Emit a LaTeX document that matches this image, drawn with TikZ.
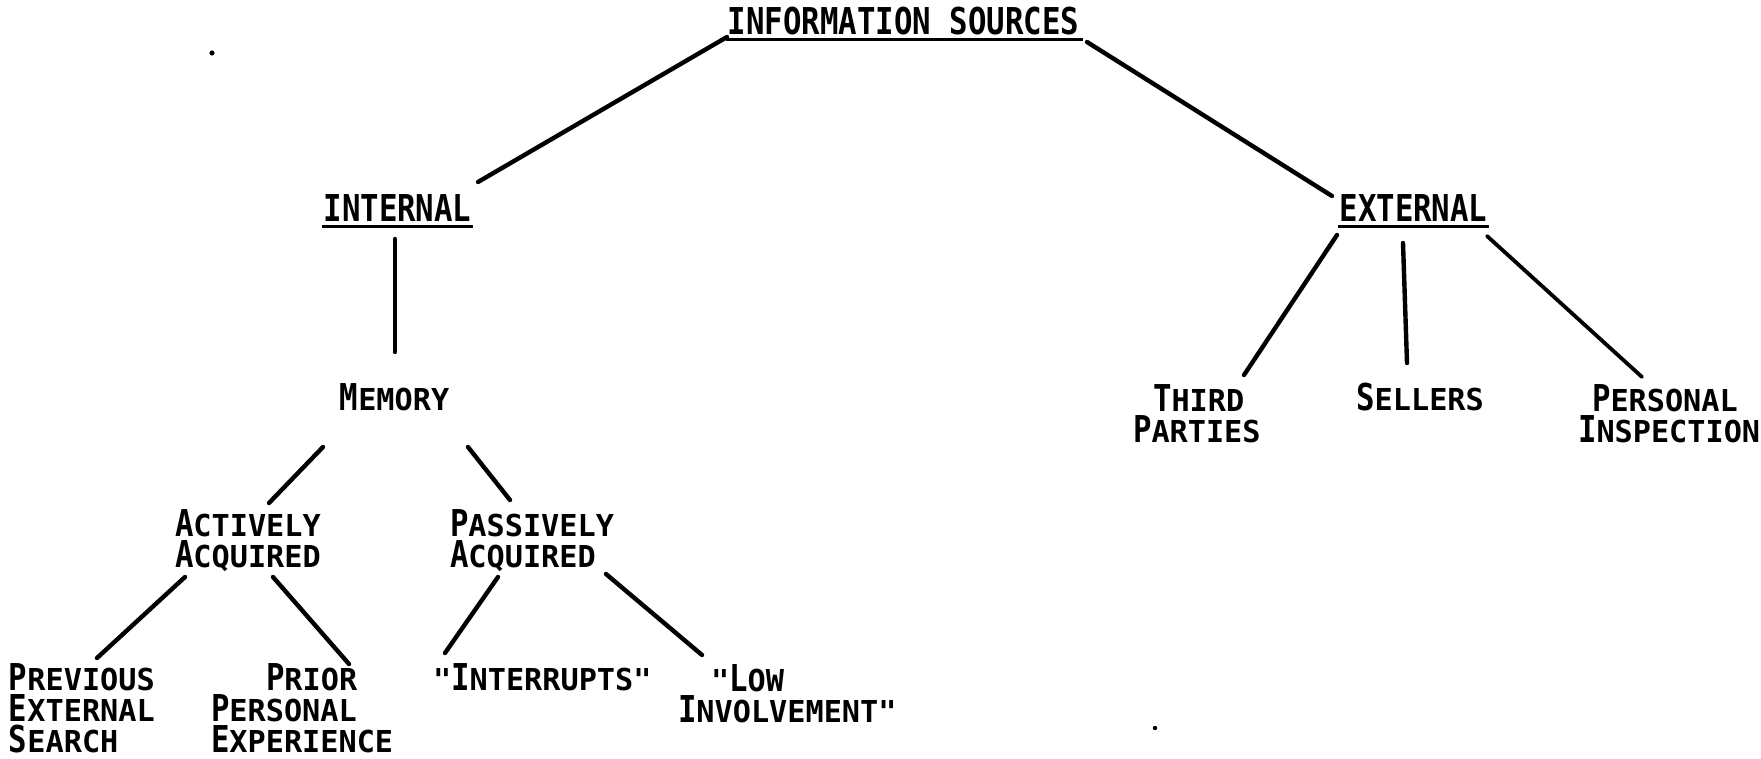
\documentclass[tikz,border=0pt]{standalone}
\usepackage{fontspec}
\usetikzlibrary{calc}
\newfontfamily\bigf{DejaVu Sans Mono}[FakeStretch=0.83]
\newfontfamily\smallf{DejaVu Sans Mono}
\newcommand\Hd[1]{{\bigf\bfseries\fontsize{18.5}{18.5}\selectfont #1}}
\newcommand\Cap[2]{{\bigf\bfseries\fontsize{18.5}{18.5}\selectfont #1}{\smallf\bfseries\fontsize{15.1}{15.5}\selectfont #2}}
\newcommand\lblfont{\smallf\bfseries\fontsize{15.1}{15.5}\selectfont}
\lineskiplimit=-40pt
\tikzset{
  lbl/.style={inner sep=0pt, outer sep=0pt, align=left, font=\lblfont},
  hd/.style={inner sep=0pt, outer sep=0pt, anchor=base},
  conn/.style={line width=2.2pt, line cap=round},
  uline/.style={line width=1.5pt}
}
\begin{document}
\begin{tikzpicture}[x=0.5pt,y=-0.5pt]
\useasboundingbox (0,0) rectangle (1761,759);
% headings
\node[hd] (top) at (903.5,35) {\Hd{INFORMATION SOURCES}};
\node[hd] (int) at (397.5,222) {\Hd{INTERNAL}};
\node[hd] (ext) at (1413.5,222) {\Hd{EXTERNAL}};
\draw[uline] ($(top.base west)+(-2,4.5)$) -- ($(top.base east)+(4,4.5)$);
\draw[uline] ($(int.base west)+(-2,4.5)$) -- ($(int.base east)+(2,4.5)$);
\draw[uline] ($(ext.base west)+(-2,4.5)$) -- ($(ext.base east)+(2,4.5)$);
% labels (base = baseline of the last line)
\node[lbl, anchor=base] (mem) at (394.5,410) {\Cap{M}{EMORY}};
\node[lbl, anchor=base west] (act) at (175,567) {\Cap{A}{CTIVELY}\\\Cap{A}{CQUIRED}};
\node[lbl, anchor=base west] (pas) at (450,567) {\Cap{P}{ASSIVELY}\\\Cap{A}{CQUIRED}};
\node[lbl, anchor=base west] (prev) at (9,752) {\Cap{P}{REVIOUS}\\\Cap{E}{XTERNAL}\\\Cap{S}{EARCH}};
\node[lbl, anchor=base west] (prior) at (211,752) {\hspace*{27.5pt}\Cap{P}{RIOR}\\\Cap{P}{ERSONAL}\\\Cap{E}{XPERIENCE}};
\node[lbl, anchor=base west] (intr) at (433,690) {"\Cap{I}{NTERRUPTS}"};
\node[lbl, anchor=base west] (low) at (678,722) {\hspace*{16.5pt}"\Cap{L}{OW}\\\Cap{I}{NVOLVEMENT}"};
\node[lbl, anchor=base west] (third) at (1133,442) {\hspace*{10pt}\Cap{T}{HIRD}\\\Cap{P}{ARTIES}};
\node[lbl, anchor=base] (sell) at (1420,410) {\Cap{S}{ELLERS}};
\node[lbl, anchor=base west] (pers) at (1578,442) {\hspace*{7pt}\Cap{P}{ERSONAL}\\\Cap{I}{NSPECTION}};
% connectors
\draw[conn] ($(top.base)+(-176.5,2)$) -- ($(int.base)+(80.5,-40)$);
\draw[conn] ($(top.base)+(183.5,7)$) -- ($(ext.base)+(-81.5,-26)$);
\draw[conn] ($(int.base)+(-2.5,17)$) -- ($(mem.base)+(0.5,-58)$);
\draw[conn] ($(mem.base)+(-71.5,37)$) -- ($(act.base west)+(94,-64)$);
\draw[conn] ($(mem.base)+(73.5,37)$) -- ($(pas.base west)+(60,-67)$);
\draw[conn] ($(act.base west)+(10,10)$) -- ($(prev.base west)+(88,-94)$);
\draw[conn] ($(act.base west)+(98,10)$) -- ($(prior.base west)+(138,-88)$);
\draw[conn] ($(pas.base west)+(48,10)$) -- ($(intr.base west)+(12,-37)$);
\draw[conn] ($(pas.base west)+(156,7)$) -- ($(low.base west)+(24,-67)$);
\draw[conn] ($(ext.base)+(-76.5,13)$) -- ($(third.base west)+(111,-67)$);
\draw[conn] ($(ext.base)+(-10.5,21)$) -- ($(sell.base)+(-13,-47)$);
\draw[conn, line width=1.9pt] ($(ext.base)+(73.5,14)$) -- ($(pers.base west)+(64,-65)$);
% specks
\fill (212,53) circle (1.3pt);
\fill (1155,728) circle (1.1pt);
\end{tikzpicture}
\end{document}
